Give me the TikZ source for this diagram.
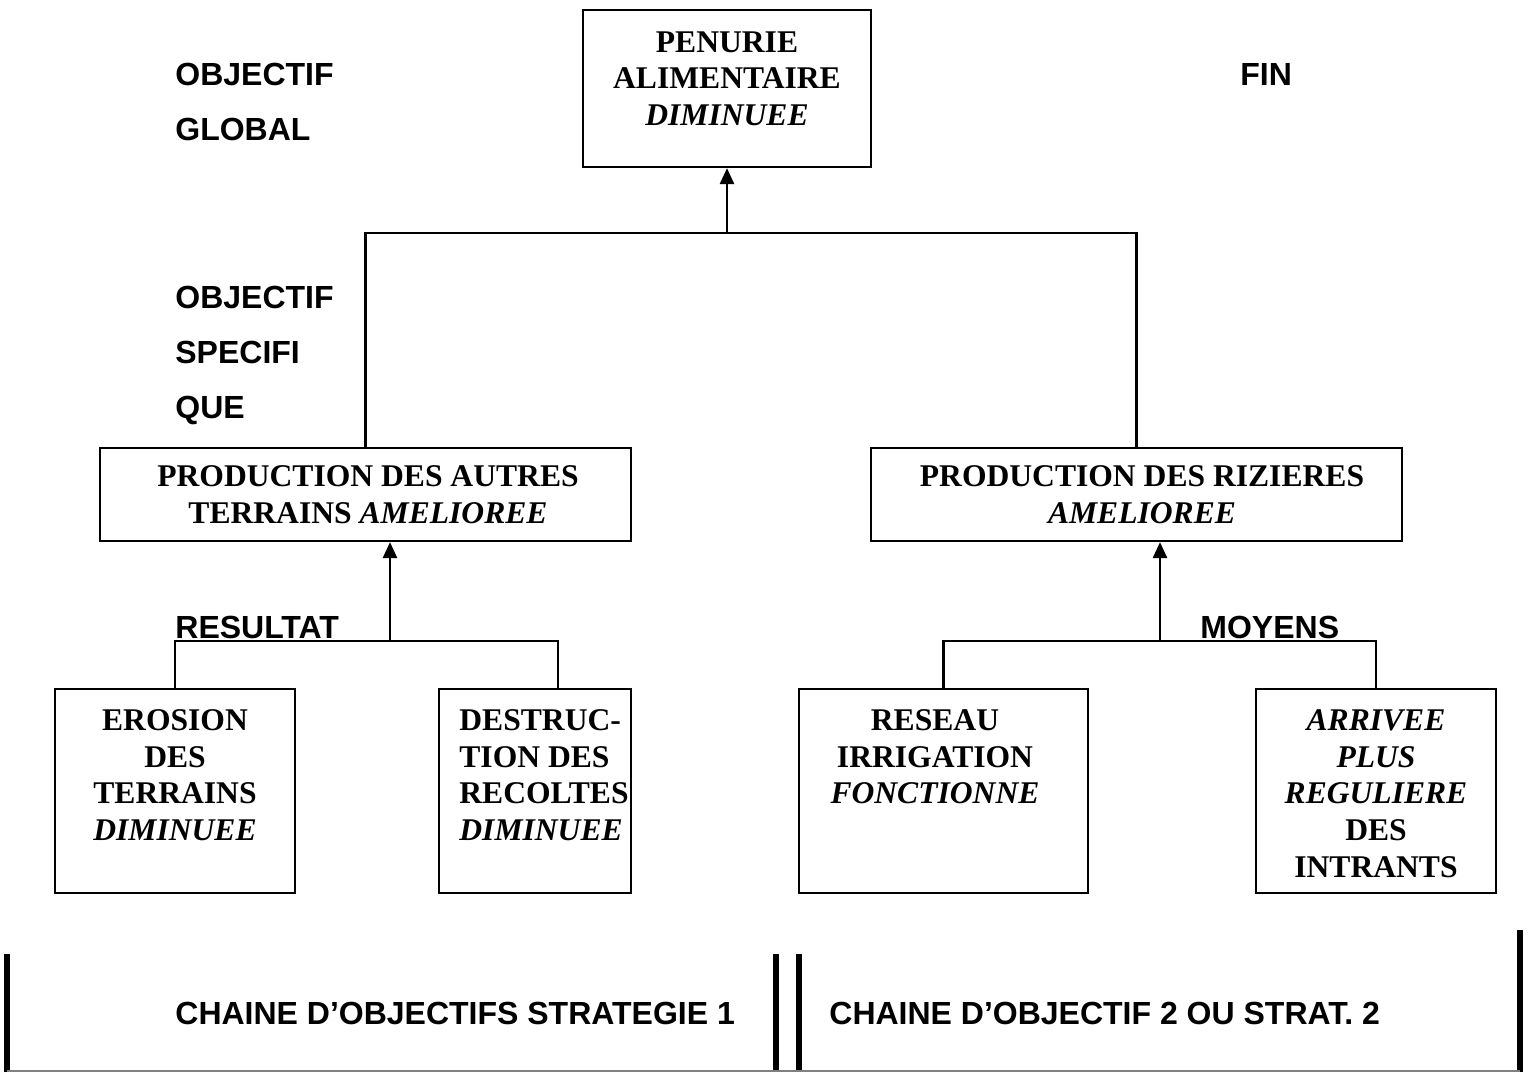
\documentclass[tikz,border=0pt]{standalone}
\usepackage{fontspec}
\setmainfont{Liberation Serif}
\newfontfamily\labelfont{Liberation Sans}
\usetikzlibrary{arrows.meta,fit}

\begin{document}
\begin{tikzpicture}[x=0.5pt,y=-0.5pt,>={Triangle[width=7pt,length=8pt]},
  goalbox/.style={draw,line width=1.1pt,inner sep=0pt},
  goaltext/.style={inner sep=0pt,anchor=north,align=center,
   font=\bfseries\fontsize{15.8}{18.4}\selectfont},
  levellabel/.style={inner sep=0pt,anchor=north west,align=left,
   font=\labelfont\bfseries\fontsize{16}{27.5}\selectfont},
  link/.style={line width=1.3pt},
  divider/.style={line width=3pt}]
 \useasboundingbox (0,0) rectangle (1528,1072);
 % boxes
 \node[goalbox,fit={(583,10) (871,167)}] (penurie) {};
 \node[goaltext] (penurie-t) at (727,31)
  {PENURIE\\ALIMENTAIRE\\\textit{DIMINUEE}};
 \node[goalbox,fit={(100,448) (631,541)}] (autres) {};
 \node[goaltext] (autres-t) at (368,465)
  {PRODUCTION DES AUTRES\\TERRAINS \textit{AMELIOREE}};
 \node[goalbox,fit={(871,448) (1402,541)}] (rizieres) {};
 \node[goaltext] (rizieres-t) at (1142,465)
  {PRODUCTION DES RIZIERES\\\textit{AMELIOREE}};
 \node[goalbox,fit={(55,689) (295,893)}] (erosion) {};
 \node[goaltext] (erosion-t) at (175,709)
  {EROSION\\DES\\TERRAINS\\\textit{DIMINUEE}};
 \node[goalbox,fit={(439,689) (631,893)}] (destruction) {};
 \node[goaltext,anchor=north west,align=left] (destruction-t) at (459,709)
  {DESTRUC-\\TION DES\\RECOLTES\\\textit{DIMINUEE}};
 \node[goalbox,fit={(799,689) (1088,893)}] (reseau) {};
 \node[goaltext] (reseau-t) at (935,709)
  {RESEAU\\IRRIGATION\\\textit{FONCTIONNE}};
 \node[goalbox,fit={(1256,689) (1496,893)}] (intrants) {};
 \node[goaltext] (intrants-t) at (1376,709)
  {\textit{ARRIVEE}\\\textit{PLUS}\\\textit{REGULIERE}\\DES\\INTRANTS};
 % links
 \coordinate (top-j) at (727,233);
 \draw[link,->] (top-j) -- (penurie.south);
 \draw[link] (autres.north) -- (autres.north |- top-j)
  -- (rizieres.north |- top-j) -- (rizieres.north);
 \coordinate (left-j) at (390,641);
 \coordinate (left-r) at (558,641);
 \draw[link,->] (left-j) -- (left-j |- autres.south);
 \draw[link] (erosion.north) -- (erosion.north |- left-j)
  -- (left-r) -- (left-r |- destruction.north);
 \coordinate (right-j) at (1160,641);
 \draw[link,->] (right-j) -- (right-j |- rizieres.south);
 \draw[link] (reseau.north) -- (reseau.north |- right-j)
  -- (intrants.north |- right-j) -- (intrants.north);
 % level labels
 \node[levellabel] (global) at (175,63) {OBJECTIF\\GLOBAL};
 \node[levellabel] (fin) at (1240,63) {FIN};
 \node[levellabel] (specifique) at (175,286) {OBJECTIF\\SPECIFI\\QUE};
 \node[levellabel] (resultat) at (175,616) {RESULTAT};
 \node[levellabel] (moyens) at (1200,616) {MOYENS};
 % strategies
 \node[levellabel] (strat1) at (175,1002) {CHAINE D’OBJECTIFS STRATEGIE 1};
 \node[levellabel] (strat2) at (829,1002) {CHAINE D’OBJECTIF 2 OU STRAT. 2};
 \draw[divider] (7,954) -- (7,1072);
 \draw[divider] (776,954) -- (776,1072);
 \draw[divider] (799,954) -- (799,1072);
 \draw[divider] (1520,930) -- (1520,1072);
 \draw[gray,line width=0.6pt] (7,1071) -- (1520,1071);
\end{tikzpicture}
\end{document}
